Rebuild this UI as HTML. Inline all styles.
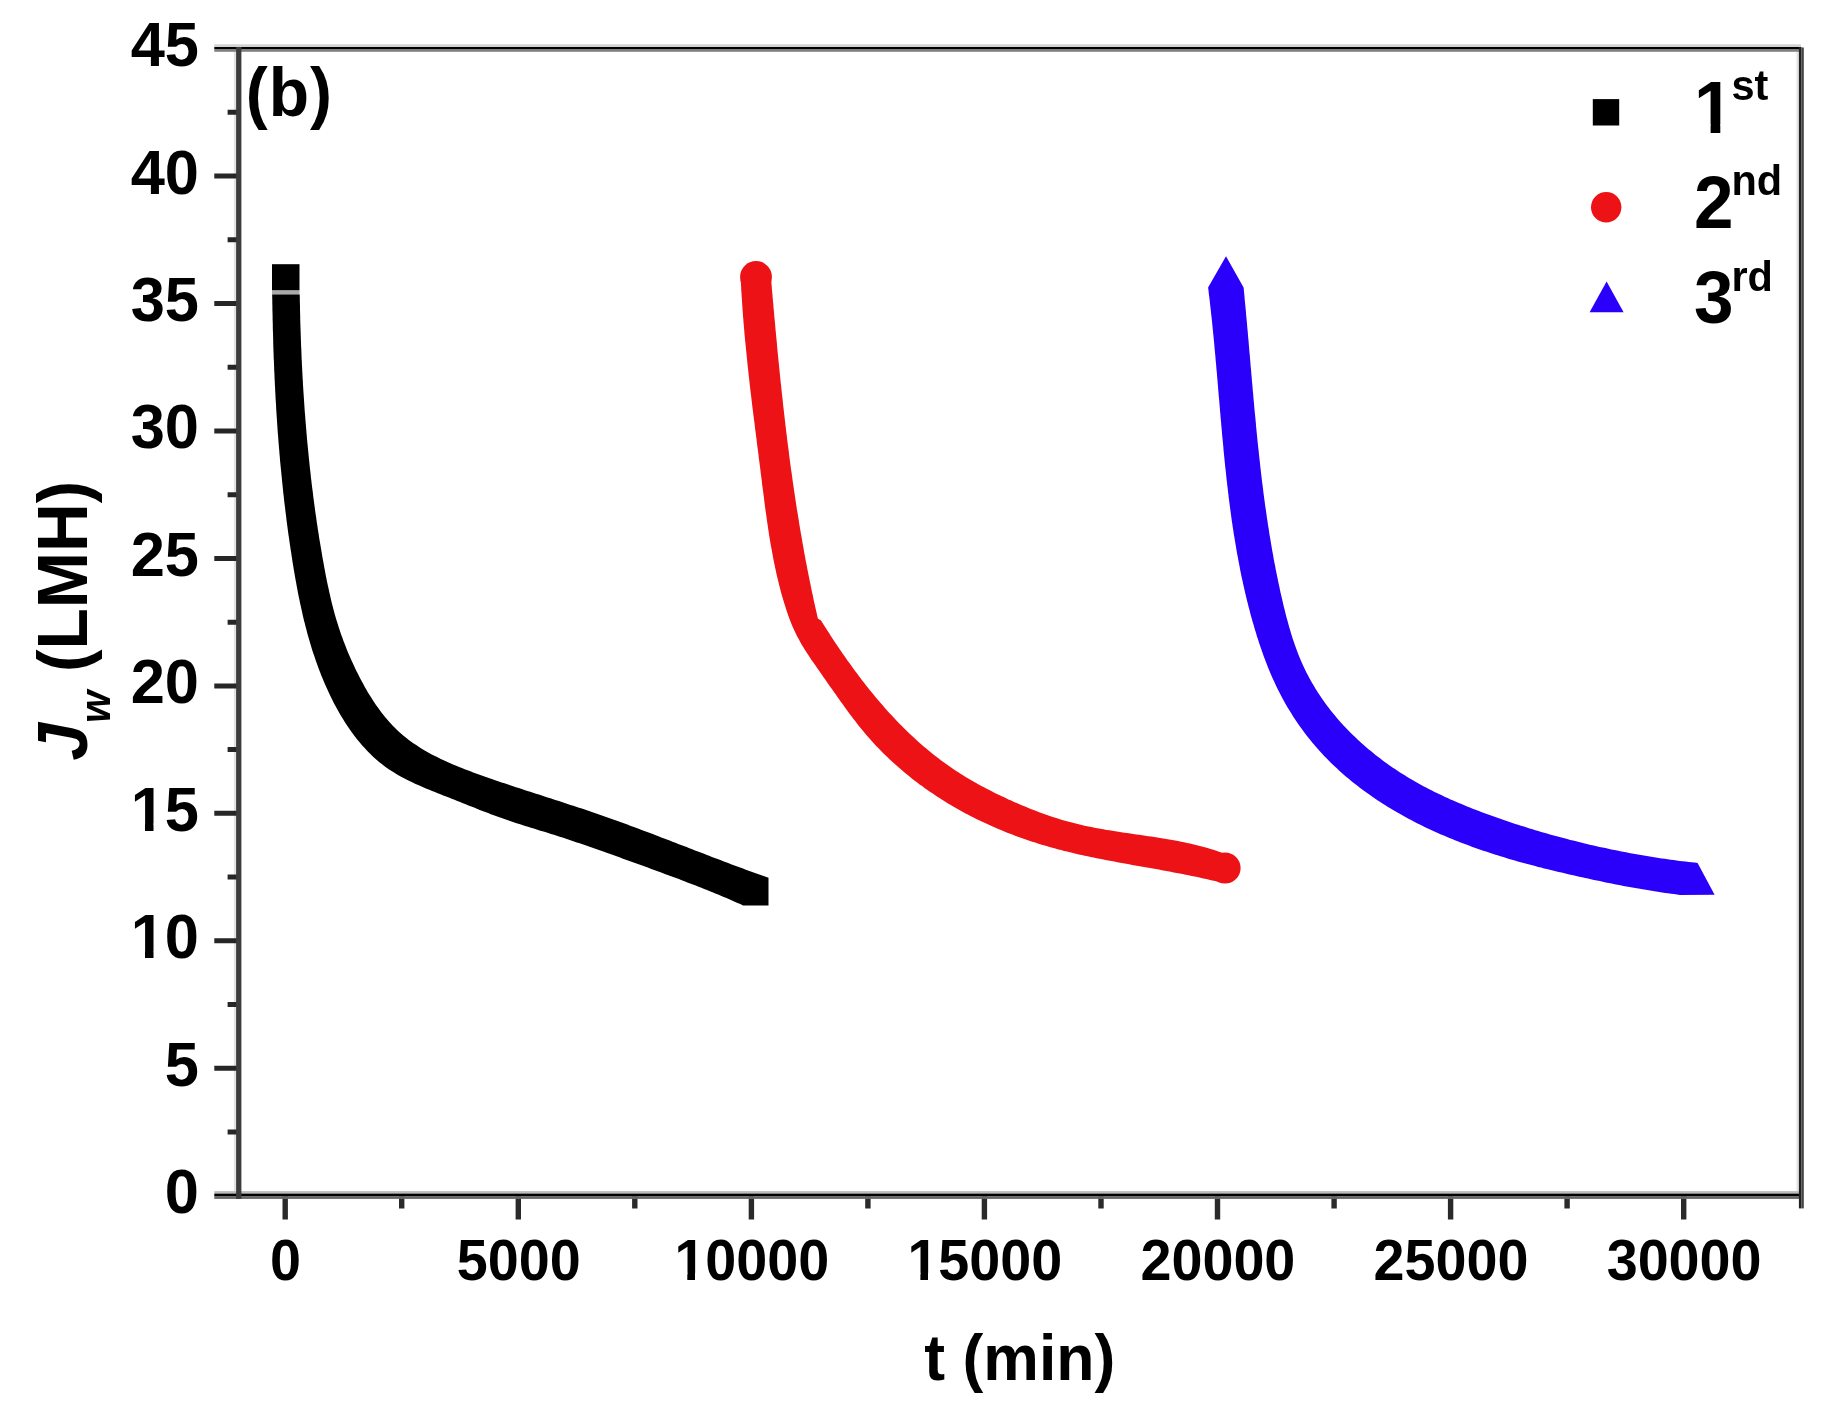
<!DOCTYPE html>
<html lang="en"><head><meta charset="utf-8"><title>Water flux vs time (b)</title>
<style>html,body{margin:0;padding:0;background:#fff}body{width:1827px;height:1413px;overflow:hidden}svg{display:block;filter:blur(0.75px)}text{font-family:"Liberation Sans", Arial, Helvetica, sans-serif;font-weight:700;fill:#000}</style></head><body>
<svg width="1827" height="1413" viewBox="0 0 1827 1413">
<rect width="1827" height="1413" fill="#fff"/>
<g id="curves">
<rect x="272" y="264.2" width="27.5" height="26.3" fill="#000"/>
<rect x="272" y="290.5" width="27.5" height="4.2" fill="#aaa"/>
<path d="M272.2 294.6L272.2 297.6L272.3 300.6L272.3 303.6L272.4 306.6L272.4 309.7L272.5 312.7L272.6 315.7L272.6 318.7L272.7 321.7L272.8 324.7L272.8 327.7L272.9 330.7L273 333.8L273.1 336.8L273.2 339.8L273.2 342.8L273.3 345.8L273.4 348.8L273.5 351.8L273.6 354.8L273.7 357.9L273.9 360.9L274 363.9L274.1 366.9L274.2 369.9L274.4 372.9L274.5 375.9L274.6 378.9L274.8 381.9L274.9 384.9L275.1 388L275.2 391L275.4 394L275.5 397L275.7 400L275.9 403L276.1 406L276.2 409L276.4 412L276.6 415L276.8 418L277 421L277.2 424.1L277.4 427.1L277.6 430.1L277.8 433.1L278.1 436.1L278.3 439.1L278.5 442.1L278.8 445.1L279 448.1L279.3 451.1L279.5 454.1L279.8 457.1L280 460.1L280.3 463.1L280.6 466.1L280.9 469.1L281.2 472.1L281.5 475.1L281.8 478.1L282.1 481.1L282.4 484.1L282.7 487.1L283 490.1L283.3 493.1L283.7 496.1L284 499.1L284.3 502.1L284.7 505.1L285.1 508.1L285.4 511L285.8 514L286.2 517L286.5 520L286.9 523L287.3 526L287.7 529L288.1 532L288.5 534.9L289 537.9L289.4 540.9L289.8 543.9L290.3 546.9L290.7 549.9L291.2 552.8L291.6 555.8L292.1 558.8L292.5 561.8L293 564.7L293.5 567.7L294 570.7L294.5 573.7L295 576.6L295.5 579.6L296.1 582.6L296.6 585.5L297.2 588.5L297.7 591.4L298.3 594.4L298.9 597.4L299.5 600.3L300.1 603.3L300.8 606.2L301.4 609.1L302.1 612.1L302.7 615L303.4 618L304.1 620.9L304.9 623.8L305.6 626.7L306.4 629.6L307.1 632.6L307.9 635.5L308.8 638.4L309.6 641.3L310.5 644.2L311.3 647L312.2 649.9L313.1 652.8L314.1 655.6L315.1 658.5L316 661.3L317.1 664.2L318.1 667L319.1 669.8L320.2 672.6L321.3 675.4L322.5 678.2L323.6 681L324.8 683.8L326 686.6L327.3 689.3L328.5 692L329.8 694.8L331.1 697.5L332.5 700.2L333.8 702.9L335.2 705.5L336.7 708.2L338.1 710.8L339.6 713.4L341.1 716L342.7 718.6L344.3 721.2L345.9 723.7L347.6 726.2L349.3 728.7L351 731.2L352.7 733.6L354.5 736L356.4 738.4L358.3 740.8L360.2 743.1L362.2 745.4L364.2 747.6L366.2 749.8L368.3 752L370.4 754.1L372.6 756.2L374.8 758.3L377.1 760.3L379.4 762.2L381.8 764.1L384.2 765.9L386.6 767.7L389.1 769.4L391.6 771L394.1 772.6L396.7 774.2L399.3 775.7L402 777.2L404.6 778.6L407.3 780L410 781.3L412.7 782.6L415.5 783.9L418.2 785.1L421 786.3L423.7 787.5L426.5 788.7L429.3 789.8L432.1 791L434.9 792.1L437.7 793.2L440.5 794.3L443.3 795.4L446.1 796.5L448.9 797.6L451.7 798.7L454.5 799.8L457.3 801L460.1 802.1L462.9 803.2L465.7 804.3L468.5 805.4L471.3 806.5L474.1 807.6L476.9 808.8L479.7 809.9L482.5 810.9L485.3 812L488.1 813.1L490.9 814.2L493.8 815.2L496.6 816.3L499.4 817.3L502.3 818.3L505.1 819.3L508 820.3L510.8 821.3L513.7 822.2L516.5 823.2L519.4 824.1L522.3 825L525.1 825.9L528 826.8L530.9 827.7L533.8 828.6L536.7 829.5L539.5 830.4L542.4 831.3L545.3 832.1L548.2 833L551 833.9L553.9 834.8L556.8 835.8L559.7 836.7L562.5 837.6L565.4 838.5L568.3 839.5L571.1 840.4L574 841.4L576.8 842.4L579.7 843.3L582.5 844.3L585.4 845.3L588.2 846.3L591.1 847.2L593.9 848.2L596.8 849.2L599.6 850.2L602.5 851.2L605.3 852.3L608.1 853.3L611 854.3L613.8 855.3L616.6 856.3L619.5 857.3L622.3 858.4L625.1 859.4L628 860.4L630.8 861.4L633.6 862.5L636.5 863.5L639.3 864.5L642.1 865.6L645 866.6L647.8 867.6L650.6 868.7L653.5 869.7L656.3 870.7L659.1 871.8L661.9 872.8L664.8 873.9L667.6 874.9L670.4 876L673.2 877L676.1 878.1L678.9 879.1L681.7 880.2L684.5 881.3L687.3 882.4L690.1 883.4L692.9 884.5L695.8 885.6L698.6 886.7L701.4 887.8L704.2 888.9L707 890.1L709.8 891.2L712.5 892.3L715.3 893.5L718.1 894.6L720.9 895.8L723.7 896.9L726.5 898.1L729.2 899.3L732 900.5L734.7 901.7L737.5 902.9L740.3 904.1L743 905.4L768.5 905.4L768.5 877.8L765.7 876.8L762.8 875.8L760 874.8L757.1 873.8L754.3 872.8L751.5 871.7L748.6 870.7L745.8 869.7L743 868.6L740.1 867.6L737.3 866.5L734.5 865.5L731.7 864.4L728.8 863.3L726 862.3L723.2 861.2L720.4 860.1L717.6 859.1L714.7 858L711.9 856.9L709.1 855.8L706.3 854.7L703.5 853.6L700.7 852.6L697.9 851.5L695 850.4L692.2 849.3L689.4 848.2L686.6 847.1L683.8 846L681 844.9L678.2 843.9L675.4 842.8L672.5 841.7L669.7 840.6L666.9 839.5L664.1 838.4L661.3 837.4L658.5 836.3L655.7 835.2L652.8 834.1L650 833.1L647.2 832L644.4 830.9L641.6 829.9L638.7 828.8L635.9 827.8L633.1 826.7L630.2 825.7L627.4 824.6L624.6 823.6L621.8 822.5L618.9 821.5L616.1 820.5L613.2 819.5L610.4 818.5L607.6 817.4L604.7 816.4L601.9 815.4L599 814.5L596.2 813.5L593.3 812.5L590.5 811.5L587.6 810.6L584.8 809.6L581.9 808.6L579 807.7L576.2 806.7L573.3 805.8L570.4 804.9L567.6 803.9L564.7 803L561.8 802L559 801.1L556.1 800.2L553.2 799.3L550.4 798.3L547.5 797.4L544.6 796.5L541.8 795.6L538.9 794.6L536 793.7L533.1 792.8L530.3 791.8L527.4 790.9L524.5 790L521.7 789L518.8 788.1L515.9 787.2L513.1 786.2L510.2 785.3L507.4 784.3L504.5 783.3L501.6 782.4L498.8 781.4L495.9 780.4L493.1 779.4L490.2 778.5L487.4 777.5L484.5 776.5L481.7 775.4L478.9 774.4L476 773.4L473.2 772.4L470.4 771.3L467.6 770.2L464.7 769.2L461.9 768.1L459.1 766.9L456.3 765.8L453.6 764.7L450.8 763.5L448 762.3L445.3 761L442.5 759.8L439.8 758.5L437.1 757.1L434.4 755.8L431.7 754.4L429.1 752.9L426.4 751.5L423.8 750L421.3 748.4L418.7 746.8L416.2 745.1L413.7 743.5L411.2 741.7L408.8 739.9L406.4 738.1L404.1 736.2L401.8 734.2L399.5 732.2L397.3 730.2L395.1 728.1L393 725.9L391 723.7L388.9 721.5L387 719.2L385 716.9L383.1 714.6L381.3 712.2L379.5 709.8L377.7 707.3L376 704.9L374.3 702.4L372.6 699.8L371 697.3L369.4 694.7L367.8 692.2L366.3 689.6L364.8 686.9L363.4 684.3L361.9 681.6L360.5 679L359.1 676.3L357.8 673.6L356.4 670.9L355.1 668.2L353.9 665.5L352.6 662.7L351.3 660L350.1 657.2L348.9 654.4L347.7 651.7L346.6 648.9L345.5 646.1L344.4 643.3L343.3 640.5L342.3 637.6L341.2 634.8L340.3 631.9L339.3 629.1L338.4 626.2L337.5 623.3L336.6 620.4L335.7 617.6L334.9 614.7L334.1 611.7L333.3 608.8L332.6 605.9L331.8 603L331.1 600.1L330.4 597.1L329.8 594.2L329.1 591.2L328.5 588.3L327.8 585.3L327.2 582.4L326.6 579.4L326 576.5L325.4 573.5L324.9 570.6L324.3 567.6L323.8 564.6L323.3 561.7L322.7 558.7L322.2 555.7L321.7 552.8L321.2 549.8L320.7 546.8L320.2 543.8L319.7 540.9L319.2 537.9L318.8 534.9L318.3 531.9L317.8 528.9L317.4 526L316.9 523L316.5 520L316.1 517L315.6 514L315.2 511L314.8 508L314.4 505.1L314 502.1L313.6 499.1L313.2 496.1L312.9 493.1L312.5 490.1L312.1 487.1L311.7 484.1L311.4 481.1L311 478.1L310.7 475.1L310.4 472.1L310 469.1L309.7 466.1L309.4 463.1L309.1 460.1L308.8 457.1L308.5 454.1L308.2 451.1L307.9 448.1L307.6 445.1L307.3 442.1L307 439.1L306.8 436.1L306.5 433.1L306.3 430.1L306 427.1L305.8 424.1L305.5 421.1L305.3 418.1L305.1 415.1L304.8 412.1L304.6 409.1L304.4 406.1L304.2 403.1L304 400L303.8 397L303.6 394L303.4 391L303.2 388L303 385L302.9 382L302.7 379L302.5 376L302.4 373L302.2 369.9L302.1 366.9L301.9 363.9L301.8 360.9L301.6 357.9L301.5 354.9L301.4 351.9L301.3 348.9L301.1 345.8L301 342.8L300.9 339.8L300.8 336.8L300.7 333.8L300.6 330.8L300.5 327.8L300.4 324.7L300.3 321.7L300.2 318.7L300.2 315.7L300.1 312.7L300 309.7L300 306.7L299.9 303.6L299.8 300.6L299.8 297.6L299.7 294.6Z" fill="#000"/>
<path d="M740.7 279.9L740.9 282.9L741.1 285.9L741.2 288.9L741.4 291.9L741.6 294.9L741.8 298L742 301L742.2 304L742.4 307L742.6 310L742.8 313L743 316L743.3 319L743.5 322.1L743.8 325.1L744 328.1L744.3 331.1L744.5 334.1L744.8 337.1L745.1 340.1L745.4 343.1L745.7 346.1L746 349.1L746.3 352.1L746.6 355.1L746.9 358.1L747.2 361.1L747.5 364.2L747.8 367.2L748.2 370.2L748.5 373.2L748.8 376.2L749.2 379.2L749.5 382.2L749.8 385.2L750.2 388.2L750.5 391.2L750.9 394.2L751.3 397.2L751.6 400.2L752 403.2L752.3 406.2L752.7 409.2L753.1 412.2L753.4 415.1L753.8 418.1L754.2 421.1L754.6 424.1L754.9 427.1L755.3 430.1L755.7 433.1L756.1 436.1L756.5 439.1L756.8 442.1L757.2 445.1L757.6 448.1L758 451.1L758.4 454.1L758.7 457.1L759.1 460.1L759.5 463.1L759.9 466.1L760.3 469.1L760.6 472.1L761 475.1L761.4 478.1L761.8 481.1L762.1 484.1L762.5 487.1L762.9 490.1L763.3 493.1L763.7 496.1L764.1 499L764.4 502L764.8 505L765.2 508L765.6 511L766.1 514L766.5 517L766.9 520L767.3 523L767.8 526L768.2 529L768.7 531.9L769.1 534.9L769.6 537.9L770.1 540.9L770.6 543.9L771.1 546.8L771.7 549.8L772.2 552.8L772.8 555.8L773.3 558.7L773.9 561.7L774.5 564.6L775.1 567.6L775.8 570.6L776.4 573.5L777.1 576.5L777.8 579.4L778.5 582.3L779.2 585.3L780 588.2L780.7 591.1L781.5 594L782.4 596.9L783.2 599.8L784.1 602.7L785 605.6L785.9 608.5L786.8 611.3L787.8 614.2L788.8 617.1L789.9 619.9L791 622.7L792.1 625.5L793.3 628.3L794.6 631L795.9 633.7L797.2 636.4L798.7 639.1L800.1 641.7L801.6 644.4L803.2 647L804.7 649.5L806.3 652.1L808 654.6L809.6 657.1L811.3 659.7L813 662.1L814.8 664.6L816.5 667.1L818.2 669.6L820 672L821.7 674.5L823.4 677L825.2 679.4L826.9 681.9L828.6 684.4L830.4 686.9L832.1 689.3L833.8 691.8L835.6 694.3L837.3 696.8L839.1 699.2L840.8 701.7L842.6 704.1L844.3 706.6L846.1 709L847.9 711.5L849.7 713.9L851.5 716.3L853.3 718.7L855.2 721.1L857 723.5L858.9 725.9L860.8 728.2L862.7 730.5L864.7 732.9L866.6 735.2L868.6 737.5L870.6 739.7L872.6 742L874.6 744.2L876.7 746.4L878.8 748.6L880.9 750.7L883 752.9L885.2 755L887.3 757.1L889.5 759.2L891.7 761.3L894 763.3L896.2 765.3L898.5 767.3L900.8 769.3L903.1 771.2L905.4 773.2L907.7 775.1L910.1 777L912.4 778.9L914.8 780.7L917.2 782.5L919.6 784.4L922.1 786.1L924.5 787.9L927 789.7L929.5 791.4L932 793.1L934.5 794.8L937 796.4L939.5 798.1L942.1 799.7L944.6 801.3L947.2 802.9L949.8 804.4L952.4 806L955 807.5L957.6 809L960.3 810.5L962.9 811.9L965.6 813.4L968.2 814.8L970.9 816.2L973.6 817.5L976.3 818.9L979 820.2L981.7 821.5L984.5 822.8L987.2 824.1L990 825.3L992.7 826.6L995.5 827.8L998.3 829L1001 830.1L1003.8 831.3L1006.6 832.4L1009.4 833.5L1012.3 834.6L1015.1 835.7L1017.9 836.7L1020.8 837.8L1023.6 838.8L1026.5 839.8L1029.3 840.7L1032.2 841.7L1035.1 842.6L1037.9 843.5L1040.8 844.4L1043.7 845.3L1046.6 846.1L1049.5 847L1052.4 847.8L1055.3 848.6L1058.3 849.4L1061.2 850.1L1064.1 850.9L1067 851.6L1070 852.3L1072.9 853L1075.9 853.7L1078.8 854.4L1081.7 855L1084.7 855.7L1087.6 856.3L1090.6 856.9L1093.6 857.5L1096.5 858.2L1099.5 858.8L1102.4 859.3L1105.4 859.9L1108.4 860.5L1111.3 861.1L1114.3 861.6L1117.3 862.2L1120.2 862.7L1123.2 863.3L1126.2 863.8L1129.2 864.3L1132.1 864.9L1135.1 865.4L1138.1 865.9L1141.1 866.5L1144 867L1147 867.5L1150 868L1152.9 868.6L1155.9 869.1L1158.9 869.6L1161.9 870.2L1164.8 870.7L1167.8 871.3L1170.8 871.8L1173.7 872.4L1176.7 872.9L1179.7 873.5L1182.6 874.1L1185.6 874.7L1188.6 875.3L1191.5 875.9L1194.5 876.5L1197.4 877.1L1200.4 877.7L1203.3 878.4L1206.3 879L1209.2 879.7L1212.2 880.4L1215.1 881.1L1218.1 881.8L1222 852.7L1219.1 851.7L1216.3 850.7L1213.4 849.8L1210.5 848.9L1207.6 848L1204.7 847.2L1201.8 846.4L1198.8 845.7L1195.9 844.9L1192.9 844.2L1190 843.6L1187 842.9L1184.1 842.3L1181.1 841.7L1178.1 841.1L1175.2 840.5L1172.2 840L1169.2 839.5L1166.2 839L1163.2 838.5L1160.3 838L1157.3 837.5L1154.3 837.1L1151.3 836.6L1148.3 836.2L1145.3 835.7L1142.3 835.3L1139.3 834.8L1136.3 834.4L1133.3 834L1130.3 833.6L1127.3 833.1L1124.3 832.7L1121.3 832.2L1118.3 831.8L1115.3 831.3L1112.4 830.8L1109.4 830.3L1106.4 829.9L1103.4 829.3L1100.4 828.8L1097.4 828.3L1094.5 827.7L1091.5 827.1L1088.5 826.5L1085.6 825.9L1082.6 825.2L1079.7 824.5L1076.7 823.8L1073.8 823.1L1070.9 822.3L1067.9 821.5L1065 820.7L1062.1 819.9L1059.2 819L1056.3 818.1L1053.5 817.2L1050.6 816.2L1047.7 815.2L1044.9 814.2L1042 813.2L1039.2 812.2L1036.3 811.1L1033.5 810L1030.7 808.9L1027.9 807.8L1025.1 806.6L1022.3 805.5L1019.5 804.3L1016.7 803.1L1014 801.9L1011.2 800.6L1008.4 799.4L1005.7 798.1L1003 796.8L1000.2 795.5L997.5 794.2L994.8 792.9L992.1 791.5L989.4 790.1L986.7 788.7L984 787.3L981.3 785.9L978.7 784.4L976.1 783L973.4 781.5L970.8 780L968.2 778.4L965.6 776.9L963 775.3L960.5 773.7L957.9 772L955.4 770.4L952.9 768.7L950.4 767L947.9 765.3L945.4 763.5L943 761.7L940.5 759.9L938.1 758.1L935.7 756.2L933.4 754.4L931 752.5L928.6 750.6L926.3 748.6L924 746.7L921.7 744.7L919.4 742.7L917.2 740.7L914.9 738.6L912.7 736.6L910.5 734.5L908.3 732.4L906.1 730.3L904 728.2L901.9 726.1L899.7 723.9L897.6 721.7L895.5 719.5L893.4 717.3L891.4 715.1L889.3 712.9L887.3 710.7L885.3 708.4L883.3 706.1L881.3 703.8L879.3 701.5L877.4 699.2L875.4 696.9L873.5 694.6L871.6 692.2L869.7 689.9L867.8 687.5L865.9 685.2L864.1 682.8L862.2 680.4L860.4 678L858.5 675.6L856.7 673.1L854.9 670.7L853.1 668.3L851.4 665.8L849.6 663.3L847.8 660.9L846.1 658.4L844.4 655.9L842.6 653.4L840.9 650.9L839.2 648.4L837.5 645.9L835.8 643.4L834.1 640.9L832.5 638.4L830.8 635.9L829.2 633.3L827.5 630.8L825.9 628.2L824.3 625.7L822.6 623.1L821 620.6L817.9 618.6L817.2 615.7L816.6 612.7L815.9 609.8L815.2 606.8L814.6 603.9L813.9 600.9L813.3 598L812.7 595L812 592L811.4 589.1L810.8 586.1L810.2 583.1L809.6 580.2L809 577.2L808.4 574.2L807.8 571.3L807.2 568.3L806.7 565.3L806.1 562.4L805.5 559.4L805 556.4L804.4 553.4L803.9 550.4L803.4 547.5L802.8 544.5L802.3 541.5L801.8 538.5L801.3 535.5L800.7 532.6L800.2 529.6L799.7 526.6L799.2 523.6L798.8 520.6L798.3 517.6L797.8 514.6L797.3 511.6L796.8 508.7L796.4 505.7L795.9 502.7L795.5 499.7L795 496.7L794.6 493.7L794.1 490.7L793.7 487.7L793.3 484.7L792.8 481.7L792.4 478.7L792 475.7L791.6 472.7L791.1 469.7L790.7 466.7L790.3 463.7L789.9 460.7L789.5 457.7L789.1 454.7L788.8 451.7L788.4 448.7L788 445.7L787.6 442.7L787.2 439.7L786.9 436.7L786.5 433.7L786.1 430.7L785.8 427.7L785.4 424.7L785.1 421.7L784.7 418.7L784.4 415.7L784 412.6L783.7 409.6L783.3 406.6L783 403.6L782.7 400.6L782.4 397.6L782 394.6L781.7 391.6L781.4 388.6L781.1 385.6L780.7 382.5L780.4 379.5L780.1 376.5L779.8 373.5L779.5 370.5L779.2 367.5L778.9 364.5L778.6 361.5L778.3 358.5L778 355.4L777.7 352.4L777.4 349.4L777.1 346.4L776.9 343.4L776.6 340.4L776.3 337.4L776 334.3L775.7 331.3L775.4 328.3L775.2 325.3L774.9 322.3L774.6 319.3L774.3 316.3L774.1 313.2L773.8 310.2L773.5 307.2L773.3 304.2L773 301.2L772.7 298.2L772.5 295.2L772.2 292.1L771.9 289.1L771.7 286.1L771.4 283.1L771.2 280.1Z" fill="#ec1216"/>
<circle cx="756" cy="276.9" r="15.9" fill="#ec1216"/><circle cx="1225" cy="868" r="15.6" fill="#ec1216"/>
<path d="M1226 256.3L1208.1 287.6L1208.5 290.6L1208.8 293.6L1209.2 296.5L1209.6 299.5L1209.9 302.5L1210.2 305.5L1210.6 308.5L1210.9 311.5L1211.2 314.5L1211.6 317.5L1211.9 320.5L1212.2 323.5L1212.5 326.5L1212.8 329.5L1213.1 332.5L1213.4 335.5L1213.7 338.5L1214 341.5L1214.3 344.5L1214.5 347.5L1214.8 350.5L1215.1 353.5L1215.4 356.5L1215.6 359.5L1215.9 362.5L1216.2 365.5L1216.4 368.5L1216.7 371.5L1217 374.5L1217.2 377.5L1217.5 380.5L1217.7 383.5L1218 386.5L1218.2 389.5L1218.5 392.5L1218.7 395.6L1219 398.6L1219.3 401.6L1219.5 404.6L1219.8 407.6L1220 410.6L1220.3 413.6L1220.5 416.6L1220.8 419.6L1221.1 422.6L1221.3 425.6L1221.6 428.6L1221.9 431.6L1222.1 434.6L1222.4 437.6L1222.7 440.6L1223 443.6L1223.3 446.6L1223.5 449.6L1223.8 452.6L1224.1 455.6L1224.4 458.6L1224.7 461.6L1225 464.6L1225.3 467.6L1225.7 470.6L1226 473.6L1226.3 476.6L1226.6 479.6L1227 482.6L1227.3 485.6L1227.7 488.6L1228 491.6L1228.4 494.5L1228.7 497.5L1229.1 500.5L1229.5 503.5L1229.9 506.5L1230.3 509.5L1230.7 512.5L1231.1 515.5L1231.5 518.5L1231.9 521.4L1232.4 524.4L1232.8 527.4L1233.3 530.4L1233.7 533.4L1234.2 536.3L1234.7 539.3L1235.2 542.3L1235.7 545.3L1236.2 548.2L1236.7 551.2L1237.2 554.2L1237.8 557.1L1238.3 560.1L1238.9 563.1L1239.5 566L1240 569L1240.6 571.9L1241.2 574.9L1241.8 577.8L1242.5 580.8L1243.1 583.7L1243.8 586.7L1244.4 589.6L1245.1 592.5L1245.8 595.5L1246.5 598.4L1247.2 601.3L1248 604.3L1248.7 607.2L1249.5 610.1L1250.2 613L1251 615.9L1251.8 618.8L1252.6 621.7L1253.5 624.6L1254.3 627.5L1255.2 630.4L1256.1 633.3L1256.9 636.2L1257.9 639.1L1258.8 641.9L1259.7 644.8L1260.7 647.6L1261.7 650.5L1262.7 653.3L1263.7 656.2L1264.8 659L1265.8 661.8L1266.9 664.6L1268 667.4L1269.2 670.2L1270.3 673L1271.5 675.8L1272.7 678.5L1274 681.3L1275.3 684L1276.5 686.7L1277.9 689.4L1279.2 692.1L1280.6 694.8L1282 697.5L1283.4 700.1L1284.9 702.8L1286.4 705.4L1287.9 708L1289.5 710.6L1291.1 713.1L1292.7 715.7L1294.3 718.2L1296 720.7L1297.7 723.2L1299.4 725.7L1301.1 728.1L1302.9 730.6L1304.7 733L1306.6 735.4L1308.4 737.7L1310.3 740.1L1312.2 742.4L1314.2 744.7L1316.1 747L1318.1 749.3L1320.1 751.5L1322.2 753.7L1324.2 755.9L1326.3 758.1L1328.4 760.3L1330.6 762.4L1332.7 764.5L1334.9 766.6L1337.1 768.6L1339.3 770.7L1341.6 772.7L1343.8 774.7L1346.1 776.7L1348.4 778.6L1350.7 780.5L1353.1 782.4L1355.4 784.3L1357.8 786.1L1360.2 788L1362.6 789.8L1365 791.6L1367.5 793.3L1370 795.1L1372.4 796.8L1374.9 798.5L1377.4 800.2L1379.9 801.8L1382.5 803.5L1385 805.1L1387.6 806.7L1390.2 808.2L1392.7 809.8L1395.3 811.3L1397.9 812.8L1400.6 814.3L1403.2 815.8L1405.8 817.2L1408.5 818.7L1411.1 820.1L1413.8 821.5L1416.5 822.9L1419.2 824.2L1421.9 825.5L1424.6 826.9L1427.3 828.2L1430.1 829.5L1432.8 830.7L1435.5 832L1438.3 833.2L1441 834.4L1443.8 835.6L1446.6 836.8L1449.4 837.9L1452.2 839.1L1454.9 840.2L1457.7 841.3L1460.6 842.4L1463.4 843.5L1466.2 844.6L1469 845.6L1471.8 846.7L1474.7 847.7L1477.5 848.7L1480.4 849.7L1483.2 850.7L1486.1 851.6L1488.9 852.6L1491.8 853.5L1494.7 854.4L1497.5 855.3L1500.4 856.2L1503.3 857.1L1506.2 858L1509.1 858.9L1512 859.7L1514.9 860.5L1517.8 861.4L1520.7 862.2L1523.6 863L1526.5 863.8L1529.4 864.6L1532.3 865.3L1535.2 866.1L1538.1 866.9L1541.1 867.6L1544 868.4L1546.9 869.1L1549.8 869.8L1552.8 870.5L1555.7 871.2L1558.6 871.9L1561.6 872.6L1564.5 873.3L1567.4 874L1570.4 874.7L1573.3 875.3L1576.2 876L1579.2 876.7L1582.1 877.3L1585.1 878L1588 878.6L1591 879.3L1593.9 879.9L1596.9 880.5L1599.8 881.1L1602.8 881.8L1605.7 882.4L1608.7 883L1611.6 883.6L1614.6 884.2L1617.5 884.7L1620.5 885.3L1623.4 885.9L1626.4 886.5L1629.4 887L1632.3 887.5L1635.3 888.1L1638.3 888.6L1641.2 889.1L1644.2 889.6L1647.2 890.1L1650.2 890.6L1653.1 891.1L1656.1 891.6L1659.1 892L1662.1 892.5L1665.1 892.9L1668 893.3L1671 893.7L1674 894.1L1677 894.5L1680 894.9L1714.6 894.8L1697.6 863L1694.6 862.6L1691.6 862.3L1688.6 862L1685.6 861.6L1682.6 861.2L1679.6 860.9L1676.6 860.5L1673.7 860.1L1670.7 859.7L1667.7 859.2L1664.7 858.8L1661.7 858.4L1658.7 857.9L1655.8 857.5L1652.8 857L1649.8 856.5L1646.8 856L1643.9 855.5L1640.9 855L1637.9 854.5L1635 854L1632 853.4L1629 852.9L1626.1 852.3L1623.1 851.8L1620.2 851.2L1617.2 850.6L1614.3 850L1611.3 849.4L1608.4 848.8L1605.4 848.1L1602.5 847.5L1599.5 846.9L1596.6 846.2L1593.6 845.5L1590.7 844.9L1587.8 844.2L1584.8 843.5L1581.9 842.8L1579 842.1L1576.1 841.3L1573.1 840.6L1570.2 839.9L1567.3 839.1L1564.4 838.3L1561.5 837.6L1558.6 836.8L1555.7 836L1552.8 835.2L1549.9 834.4L1547 833.6L1544.1 832.7L1541.2 831.9L1538.3 831L1535.4 830.2L1532.5 829.3L1529.6 828.4L1526.8 827.5L1523.9 826.6L1521 825.7L1518.1 824.8L1515.3 823.9L1512.4 822.9L1509.6 822L1506.7 821L1503.8 820L1501 819L1498.1 818.1L1495.3 817.1L1492.5 816L1489.6 815L1486.8 814L1484 812.9L1481.2 811.9L1478.3 810.8L1475.5 809.7L1472.7 808.7L1469.9 807.5L1467.1 806.4L1464.3 805.3L1461.5 804.1L1458.8 803L1456 801.8L1453.2 800.6L1450.5 799.4L1447.7 798.1L1445 796.9L1442.3 795.6L1439.5 794.3L1436.8 793L1434.1 791.7L1431.4 790.3L1428.7 789L1426.1 787.6L1423.4 786.2L1420.8 784.7L1418.1 783.3L1415.5 781.8L1412.9 780.3L1410.3 778.7L1407.7 777.2L1405.1 775.6L1402.6 774L1400 772.4L1397.5 770.8L1395 769.1L1392.5 767.4L1390 765.7L1387.6 763.9L1385.1 762.2L1382.7 760.4L1380.3 758.6L1377.9 756.8L1375.5 754.9L1373.2 753L1370.9 751.1L1368.5 749.2L1366.2 747.2L1364 745.3L1361.7 743.3L1359.5 741.2L1357.3 739.2L1355.1 737.1L1352.9 735L1350.8 732.9L1348.6 730.8L1346.5 728.6L1344.5 726.4L1342.4 724.2L1340.4 722L1338.4 719.7L1336.5 717.4L1334.5 715.1L1332.6 712.8L1330.7 710.4L1328.9 708.1L1327.1 705.7L1325.3 703.2L1323.5 700.8L1321.8 698.3L1320.1 695.8L1318.4 693.3L1316.8 690.8L1315.2 688.2L1313.7 685.6L1312.1 683L1310.7 680.4L1309.2 677.8L1307.8 675.1L1306.4 672.4L1305.1 669.7L1303.8 667L1302.5 664.3L1301.3 661.5L1300.1 658.7L1299 656L1297.9 653.2L1296.8 650.3L1295.8 647.5L1294.8 644.7L1293.8 641.8L1292.8 639L1291.9 636.1L1291 633.2L1290.2 630.3L1289.3 627.4L1288.5 624.5L1287.7 621.6L1286.9 618.7L1286.1 615.8L1285.4 612.9L1284.7 610L1283.9 607.1L1283.2 604.1L1282.6 601.2L1281.9 598.3L1281.2 595.3L1280.5 592.4L1279.9 589.4L1279.3 586.5L1278.6 583.5L1278 580.6L1277.4 577.6L1276.8 574.7L1276.2 571.7L1275.6 568.8L1275.1 565.8L1274.5 562.9L1273.9 559.9L1273.4 556.9L1272.9 554L1272.3 551L1271.8 548L1271.3 545.1L1270.8 542.1L1270.3 539.1L1269.8 536.2L1269.3 533.2L1268.9 530.2L1268.4 527.2L1267.9 524.3L1267.5 521.3L1267 518.3L1266.6 515.3L1266.2 512.3L1265.8 509.4L1265.3 506.4L1264.9 503.4L1264.5 500.4L1264.1 497.4L1263.7 494.4L1263.3 491.4L1263 488.4L1262.6 485.5L1262.2 482.5L1261.8 479.5L1261.5 476.5L1261.1 473.5L1260.8 470.5L1260.4 467.5L1260.1 464.5L1259.8 461.5L1259.4 458.5L1259.1 455.5L1258.8 452.5L1258.5 449.5L1258.1 446.5L1257.8 443.5L1257.5 440.6L1257.2 437.6L1256.9 434.6L1256.6 431.6L1256.3 428.6L1256 425.6L1255.8 422.6L1255.5 419.6L1255.2 416.6L1254.9 413.6L1254.6 410.6L1254.3 407.6L1254.1 404.6L1253.8 401.6L1253.5 398.6L1253.3 395.6L1253 392.6L1252.7 389.6L1252.5 386.6L1252.2 383.6L1251.9 380.6L1251.7 377.6L1251.4 374.6L1251.2 371.6L1250.9 368.6L1250.6 365.5L1250.4 362.5L1250.1 359.5L1249.9 356.5L1249.6 353.5L1249.3 350.5L1249.1 347.5L1248.8 344.5L1248.6 341.5L1248.3 338.5L1248 335.5L1247.8 332.5L1247.5 329.5L1247.2 326.5L1247 323.5L1246.7 320.5L1246.4 317.5L1246.1 314.5L1245.9 311.5L1245.6 308.5L1245.3 305.5L1245 302.5L1244.7 299.5L1244.5 296.5L1244.2 293.5L1243.9 290.5L1243.6 287.5Z" fill="#2a00fa"/>
</g>
<g id="axes">
<rect x="233.9" y="51.8" width="2.2" height="1139.3" fill="#e2e2e2"/><rect x="1796.5" y="51.8" width="2.4" height="1139.3" fill="#e2e2e2"/>
<path d="M214.3 1068.2H238.8M214.3 940.8H238.8M214.3 813.3H238.8M214.3 685.9H238.8M214.3 558.4H238.8M214.3 431H238.8M214.3 303.5H238.8M214.3 176.1H238.8M227.6 1132H238.8M227.6 1004.5H238.8M227.6 877.1H238.8M227.6 749.6H238.8M227.6 622.2H238.8M227.6 494.7H238.8M227.6 367.2H238.8M227.6 239.8H238.8M227.6 112.3H238.8" stroke="#262626" stroke-width="5" fill="none"/>
<path d="M285.2 1195.5V1219.6M518.3 1195.5V1219.6M751.4 1195.5V1219.6M984.4 1195.5V1219.6M1217.5 1195.5V1219.6M1450.6 1195.5V1219.6M1683.7 1195.5V1219.6M401.7 1195.5V1208.4M634.8 1195.5V1208.4M867.9 1195.5V1208.4M1101 1195.5V1208.4M1334.1 1195.5V1208.4M1567.1 1195.5V1208.4" stroke="#2a2a2a" stroke-width="5.4" fill="none"/>
<rect x="214.3" y="44.3" width="1586.7" height="2.7" fill="#d2d2d2"/><rect x="214.3" y="47" width="1586.7" height="2.5" fill="#000"/><rect x="214.3" y="49.5" width="1586.7" height="2.3" fill="#808080"/>
<rect x="214.3" y="1191.1" width="1586.7" height="2.5" fill="#bdbdbd"/><rect x="214.3" y="1193.6" width="1586.7" height="2.5" fill="#000"/><rect x="214.3" y="1196.1" width="1586.7" height="2.8" fill="#666"/>
<rect x="236.1" y="47" width="5.3" height="1151.9" fill="#3c3c3c"/>
<rect x="1798.9" y="47" width="2.6" height="1161.4" fill="#222"/><rect x="1801.5" y="47.5" width="2.3" height="1160.9" fill="#444"/>
</g>
<g id="ylabels">
<text transform="translate(199 1213.1) scale(1 1.04)" font-size="61.4" text-anchor="end">0</text>
<text transform="translate(199 1085.6) scale(1 1.04)" font-size="61.4" text-anchor="end">5</text>
<text transform="translate(199 958.2) scale(1 1.04)" font-size="61.4" text-anchor="end">10</text><rect x="133.7" y="951" width="11.3" height="8.7" fill="#fff"/><rect x="153.5" y="951" width="10.5" height="8.7" fill="#fff"/>
<text transform="translate(199 830.7) scale(1 1.04)" font-size="61.4" text-anchor="end">15</text><rect x="133.7" y="823.5" width="11.3" height="8.7" fill="#fff"/><rect x="153.5" y="823.5" width="10.5" height="8.7" fill="#fff"/>
<text transform="translate(199 703.3) scale(1 1.04)" font-size="61.4" text-anchor="end">20</text>
<text transform="translate(199 575.8) scale(1 1.04)" font-size="61.4" text-anchor="end">25</text>
<text transform="translate(199 448.4) scale(1 1.04)" font-size="61.4" text-anchor="end">30</text>
<text transform="translate(199 320.9) scale(1 1.04)" font-size="61.4" text-anchor="end">35</text>
<text transform="translate(199 193.5) scale(1 1.04)" font-size="61.4" text-anchor="end">40</text>
<text transform="translate(199 66) scale(1 1.04)" font-size="61.4" text-anchor="end">45</text>
</g>
<g id="xlabels">
<text transform="translate(285.6 1279.5) scale(1 1.04)" font-size="55.7" text-anchor="middle">0</text>
<text transform="translate(518.7 1279.5) scale(1 1.04)" font-size="55.7" text-anchor="middle">5000</text>
<text transform="translate(751.8 1279.5) scale(1 1.04)" font-size="55.7" text-anchor="middle">10000</text><rect x="677" y="1272.9" width="10.3" height="8.1" fill="#fff"/><rect x="695" y="1272.9" width="9.5" height="8.1" fill="#fff"/>
<text transform="translate(984.8 1279.5) scale(1 1.04)" font-size="55.7" text-anchor="middle">15000</text><rect x="910.1" y="1272.9" width="10.3" height="8.1" fill="#fff"/><rect x="928" y="1272.9" width="9.5" height="8.1" fill="#fff"/>
<text transform="translate(1217.9 1279.5) scale(1 1.04)" font-size="55.7" text-anchor="middle">20000</text>
<text transform="translate(1451 1279.5) scale(1 1.04)" font-size="55.7" text-anchor="middle">25000</text>
<text transform="translate(1684.1 1279.5) scale(1 1.04)" font-size="55.7" text-anchor="middle">30000</text>
</g>
<text transform="translate(1019.8 1380.2) scale(1 1.04)" font-size="62.5" text-anchor="middle">t (min)</text>
<text transform="translate(87.3 760.5) rotate(-90) scale(1 1.04)" font-size="67.5" text-anchor="start"><tspan font-style="italic">J</tspan><tspan font-style="italic" font-size="41.5" dy="22">w</tspan><tspan dy="-22"> (LMH)</tspan></text>
<text letter-spacing="1" transform="translate(245.8 115.5) scale(1 1.04)" font-size="66" text-anchor="start">(b)</text>
<g id="legend">
<rect x="1592.8" y="99.1" width="26.4" height="26.4" fill="#000"/>
<circle cx="1606.2" cy="207.2" r="15.2" fill="#ec1216"/>
<path d="M1606.6 281.5L1623.6 312.3H1589.6Z" fill="#2a00fa"/>
<text transform="translate(1694 132.6) scale(1 1.04)" font-size="71" text-anchor="start">1<tspan font-size="41.5" dx="-2" dy="-31.5">st</tspan></text>
<rect x="1697.5" y="124.4" width="13.1" height="9.7" fill="#fff"/><rect x="1720.3" y="124.4" width="12.2" height="9.7" fill="#fff"/>
<text transform="translate(1694 228.1) scale(1 1.04)" font-size="71" text-anchor="start">2<tspan font-size="41.5" dx="-2" dy="-31.5">nd</tspan></text>
<text transform="translate(1694 323.3) scale(1 1.04)" font-size="71" text-anchor="start">3<tspan font-size="41.5" dx="-2" dy="-31.5">rd</tspan></text>
</g>
</svg></body></html>
